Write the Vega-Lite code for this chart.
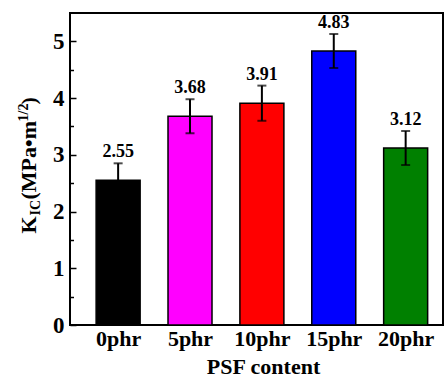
{
  "$schema": "https://vega.github.io/schema/vega-lite/v6.json",
  "width": 373,
  "height": 312,
  "autosize": "none",
  "padding": {"left": 70, "top": 13, "right": 2, "bottom": 53},
  "background": "white",
  "config": {
    "view": {"stroke": "black", "strokeWidth": 2},
    "axis": {"grid": false, "domain": false, "titleColor": "black", "labelColor": "black", "titleFont": "Liberation Serif", "labelFont": "Liberation Serif", "titleFontWeight": "bold", "labelFontWeight": "bold"}
  },
  "data": {
    "values": [
      {"content": "0phr", "idx": 0, "value": 2.55, "lo": 2.25, "hi": 2.85},
      {"content": "5phr", "idx": 1, "value": 3.68, "lo": 3.38, "hi": 3.98},
      {"content": "10phr", "idx": 2, "value": 3.91, "lo": 3.6, "hi": 4.22},
      {"content": "15phr", "idx": 3, "value": 4.83, "lo": 4.53, "hi": 5.13},
      {"content": "20phr", "idx": 4, "value": 3.12, "lo": 2.82, "hi": 3.42}
    ]
  },
  "encoding": {
    "x": {
      "field": "idx", "type": "quantitative",
      "scale": {"domain": [-0.6, 4.45], "nice": false, "zero": false},
      "axis": {
        "values": [0, 1, 2, 3, 4],
        "labelExpr": "['0phr','5phr','10phr','15phr','20phr'][datum.value]",
        "ticks": false, "labelFontSize": 22, "labelPadding": 3,
        "title": "PSF content", "titleFontSize": 22,
        "titleX": 193, "titleY": 48, "titleAlign": "center", "titleBaseline": "alphabetic"
      }
    }
  },
  "layer": [
    {
      "mark": {"type": "bar", "width": 44, "stroke": "black", "strokeWidth": 1.5},
      "encoding": {
        "y": {
          "field": "value", "type": "quantitative",
          "scale": {"domain": [0, 5.5], "nice": false},
          "axis": {
            "orient": "left", "values": [0, 1, 2, 3, 4, 5], "format": "d",
            "tickSize": -6, "tickWidth": 1.5, "tickColor": "black",
            "labelFontSize": 23, "labelPadding": 12,
            "title": "K", "titleFontSize": 22, "titleAngle": 270,
            "titleAlign": "left", "titleBaseline": "alphabetic", "titleX": -35, "titleY": 220
          }
        },
        "color": {
          "field": "content", "type": "nominal", "legend": null,
          "scale": {"domain": ["0phr", "5phr", "10phr", "15phr", "20phr"], "range": ["#000000", "#FF00FF", "#FF0000", "#0000FF", "#008000"]}
        }
      }
    },
    {
      "mark": {"type": "rule", "color": "black", "strokeWidth": 2},
      "encoding": {
        "y": {
          "field": "lo", "type": "quantitative",
          "axis": {
            "orient": "left", "values": [0.5, 1.5, 2.5, 3.5, 4.5],
            "tickSize": -3.5, "tickWidth": 1.5, "tickColor": "black", "labels": false,
            "title": "IC", "titleFontSize": 14, "titleAngle": 270,
            "titleAlign": "left", "titleBaseline": "alphabetic", "titleX": -31, "titleY": 202
          }
        },
        "y2": {"field": "hi"}
      }
    },
    {
      "mark": {"type": "tick", "orient": "horizontal", "color": "black", "size": 9, "thickness": 2},
      "encoding": {
        "y": {
          "field": "lo", "type": "quantitative",
          "axis": {
            "orient": "left", "ticks": false, "labels": false,
            "title": "(MPa•m", "titleFontSize": 22, "titleAngle": 270,
            "titleAlign": "left", "titleBaseline": "alphabetic", "titleX": -35, "titleY": 186
          }
        }
      }
    },
    {
      "mark": {"type": "tick", "orient": "horizontal", "color": "black", "size": 9, "thickness": 2},
      "encoding": {
        "y": {
          "field": "hi", "type": "quantitative",
          "axis": {
            "orient": "left", "ticks": false, "labels": false,
            "title": "1/2", "titleFontSize": 14, "titleAngle": 270,
            "titleAlign": "left", "titleBaseline": "alphabetic", "titleX": -43, "titleY": 108
          }
        }
      }
    },
    {
      "mark": {"type": "text", "dy": -6, "baseline": "alphabetic", "font": "Liberation Serif", "fontWeight": "bold", "fontSize": 18, "color": "black"},
      "encoding": {
        "y": {
          "field": "hi", "type": "quantitative",
          "axis": {
            "orient": "left", "ticks": false, "labels": false,
            "title": ")", "titleFontSize": 22, "titleAngle": 270,
            "titleAlign": "left", "titleBaseline": "alphabetic", "titleX": -35, "titleY": 91
          }
        },
        "text": {"field": "value", "type": "quantitative", "format": ".2f"}
      }
    }
  ],
  "resolve": {"axis": {"y": "independent"}}
}
